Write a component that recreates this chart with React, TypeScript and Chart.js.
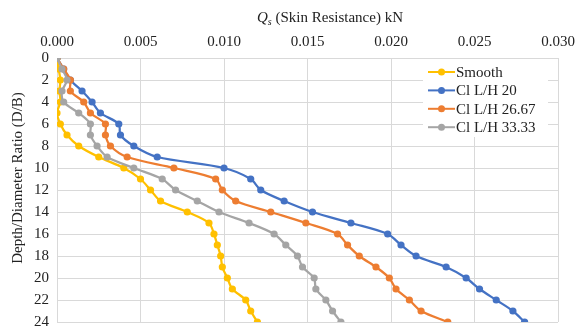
import React, { useEffect, useRef } from "react";
import { Chart, registerables } from "chart.js";
Chart.register(...registerables);

const depthRatio = [0, 1, 2, 3, 4, 5, 6, 7, 8, 9, 10, 11, 12, 13, 14, 15, 16, 17, 18, 19, 20, 21, 22, 23, 24];
const smooth = [0, 0.0001, 0.0002, 0.00015, 0.0002, 0.0, 0.0002, 0.0006, 0.0013, 0.0025, 0.004, 0.005, 0.0056, 0.0062, 0.0078, 0.0091, 0.0094, 0.0096, 0.0098, 0.0099, 0.0102, 0.0105, 0.0113, 0.0116, 0.012];
const clLH20 = [0, 0.0004, 0.0008, 0.0015, 0.0021, 0.0026, 0.0037, 0.0038, 0.0046, 0.006, 0.01, 0.0116, 0.0122, 0.0136, 0.0153, 0.0176, 0.0198, 0.0206, 0.0215, 0.0233, 0.0245, 0.0253, 0.0263, 0.0273, 0.028];
const clLH2667 = [0, 0.0004, 0.0008, 0.0008, 0.0016, 0.002, 0.0029, 0.0029, 0.0032, 0.0042, 0.007, 0.0095, 0.0099, 0.0107, 0.0128, 0.0149, 0.0168, 0.0174, 0.0181, 0.0191, 0.0199, 0.0203, 0.0211, 0.0218, 0.0234];
const clLH3333 = [0, 0.0003, 0.0006, 0.0003, 0.0004, 0.0013, 0.002, 0.002, 0.0024, 0.003, 0.0046, 0.0063, 0.0071, 0.0084, 0.0097, 0.0115, 0.013, 0.0137, 0.0144, 0.0147, 0.0154, 0.0155, 0.0161, 0.0165, 0.017];
const seriesLabels = ["Smooth", "Cl L/H 20", "Cl L/H 26.67", "Cl L/H 33.33"];
const seriesColors = ["#FFC000", "#4472C4", "#ED7D31", "#A5A5A5"];
const xTitleMain = " (Skin Resistance) kN";
const yTitle = "Depth/Diameter Ratio (D/B)";

const FONT = "'Liberation Serif', 'Times New Roman', serif";

const overlayPlugin = {
  id: "overlay",
  beforeDatasetsDraw(chart: any) {
    const ctx = chart.ctx;
    const datasets = chart.data.datasets;
    ctx.save();
    ctx.fillStyle = "#ffffff";
    ctx.fillRect(423, 59, 125, 78);
    ctx.font = `15px ${FONT}`;
    ctx.textBaseline = "middle";
    ctx.textAlign = "left";
    datasets.forEach((ds: any, i: number) => {
      const y = 72 + i * 18.4;
      ctx.strokeStyle = ds.borderColor;
      ctx.lineWidth = 2;
      ctx.beginPath();
      ctx.moveTo(428, y);
      ctx.lineTo(455, y);
      ctx.stroke();
      ctx.fillStyle = ds.borderColor;
      ctx.beginPath();
      ctx.arc(441.5, y, 3.5, 0, Math.PI * 2);
      ctx.fill();
      ctx.fillStyle = "#222";
      ctx.fillText(ds.label, 456, y + 1);
    });
    ctx.restore();
  },
  afterDraw(chart: any) {
    const ctx = chart.ctx;
    ctx.save();
    ctx.fillStyle = "#222";
    ctx.textBaseline = "alphabetic";
    ctx.textAlign = "left";
    ctx.font = `italic 15px ${FONT}`;
    const qW = ctx.measureText("Q").width;
    ctx.font = `italic 10px ${FONT}`;
    const sW = ctx.measureText("s").width;
    ctx.font = `15px ${FONT}`;
    const mW = ctx.measureText(xTitleMain).width;
    const total = qW + sW + mW;
    let x = 330 - total / 2;
    const base = 22;
    ctx.font = `italic 15px ${FONT}`;
    ctx.fillText("Q", x, base);
    x += qW;
    ctx.font = `italic 10px ${FONT}`;
    ctx.fillText("s", x, base + 3);
    x += sW;
    ctx.font = `15px ${FONT}`;
    ctx.fillText(xTitleMain, x, base);
    ctx.translate(18, 178);
    ctx.rotate(-Math.PI / 2);
    ctx.textAlign = "center";
    ctx.textBaseline = "middle";
    ctx.fillText(yTitle, 0, 0);
    ctx.restore();
  },
};

export default function App() {
  const ref = useRef<HTMLCanvasElement>(null);
  useEffect(() => {
    document.body.style.margin = "0";
    const mk = (vals: number[]) => vals.map((v, i) => ({ x: v, y: depthRatio[i] }));
    const all = [smooth, clLH20, clLH2667, clLH3333];
    const chart = new Chart(ref.current!, {
      type: "scatter",
      data: {
        datasets: all.map((vals, i) => ({
          label: seriesLabels[i],
          data: mk(vals),
          showLine: true,
          borderColor: seriesColors[i],
          backgroundColor: seriesColors[i],
          borderWidth: 2.25,
          pointRadius: 3.6,
          pointHoverRadius: 3.6,
          pointBorderWidth: 0,
          tension: 0.3,
          order: 3 - i,
        })),
      },
      options: {
        responsive: false,
        animation: false,
        layout: { padding: { left: 0, right: 17, top: 0, bottom: 5 } },
        plugins: { legend: { display: false }, tooltip: { enabled: false } },
        scales: {
          x: {
            type: "linear",
            position: "top",
            min: 0,
            max: 0.03,
            ticks: {
              stepSize: 0.005,
              color: "#222",
              font: { family: FONT, size: 15 },
              padding: 7,
              maxRotation: 0,
              callback: (v: any) => Number(v).toFixed(3),
            },
            grid: { color: "#d9d9d9", drawTicks: false, lineWidth: 1 },
            border: { color: "#d9d9d9" },
            afterFit: (s: any) => { s.height = 58; s.paddingLeft = 0; s.paddingRight = 0; },
          },
          y: {
            type: "linear",
            reverse: true,
            min: 0,
            max: 24,
            ticks: {
              stepSize: 2,
              color: "#222",
              font: { family: FONT, size: 15 },
              padding: 8,
            },
            grid: { color: "#d9d9d9", drawTicks: false, lineWidth: 1 },
            border: { color: "#d9d9d9" },
            afterFit: (s: any) => { s.width = 57; s.paddingTop = 0; s.paddingBottom = 0; },
          },
        },
      },
      plugins: [overlayPlugin],
    });
    return () => chart.destroy();
  }, []);
  return (
    <div style={{ width: 575, height: 327 }}>
      <canvas ref={ref} width={575} height={327} style={{ display: "block" }} />
    </div>
  );
}
